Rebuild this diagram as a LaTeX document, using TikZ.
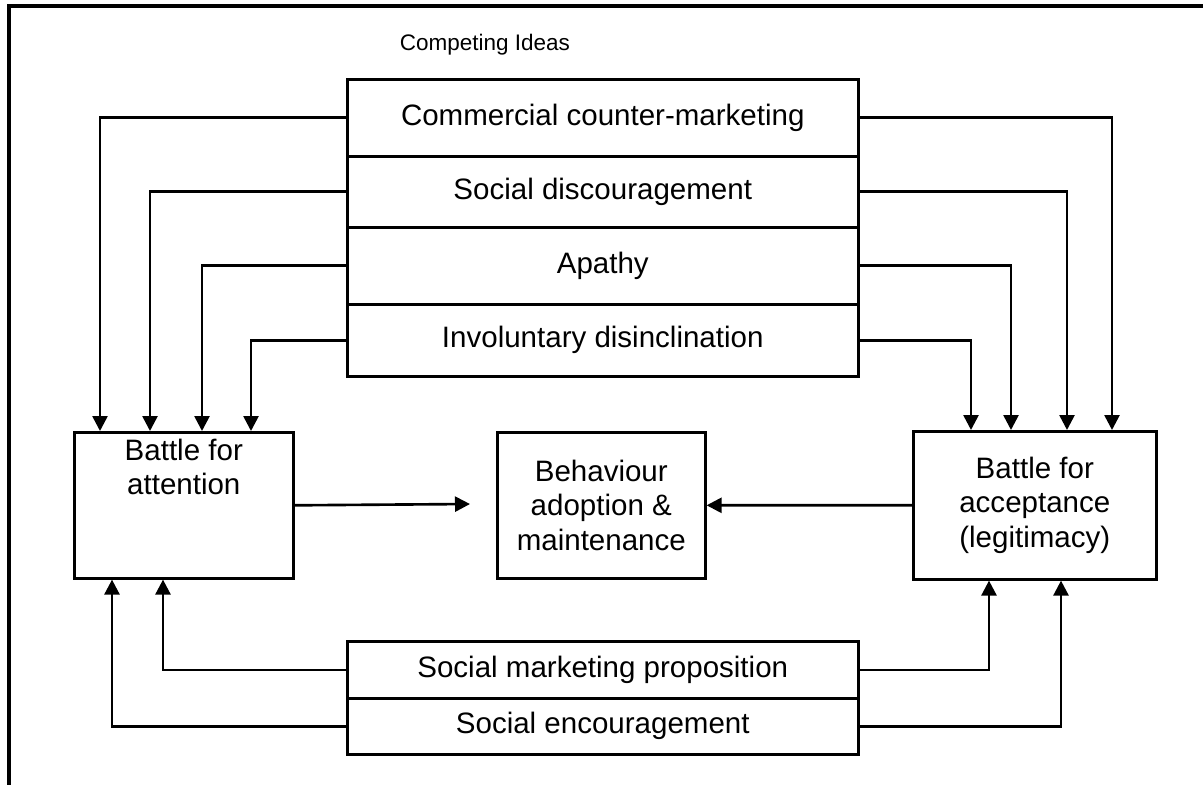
\documentclass[tikz,border=0pt]{standalone}
\usepackage{fontspec}
\setmainfont{Liberation Sans}
\usetikzlibrary{arrows.meta,calc}
\begin{document}
\begin{tikzpicture}[x=0.02cm,y=-0.02cm,line width=1.5pt,
  every node/.style={font=\fontsize{16.8}{19.5}\selectfont,align=center},
  box/.style={draw=black,rectangle,inner sep=0pt,anchor=north west},
  row/.style={box,minimum width=10.22cm},
  arr/.style={-{Triangle[length=0.3cm,width=0.3cm]}}]
\useasboundingbox (0,0) rectangle (1203,785);
% frame
\draw [line width=2pt] (1203,6) -- (9,6) -- (9,785);
\node [font=\fontsize{12.8}{15}\selectfont] (title) at (485,45) {Competing Ideas};
% competing ideas stack
\node [row,minimum height=1.54cm] (cm) at (346,78) {Commercial counter-marketing};
\node [row,minimum height=1.42cm] (sd) at (346,155) {Social discouragement};
\node [row,minimum height=1.54cm] (ap) at (346,226) {Apathy};
\node [row,minimum height=1.44cm] (inv) at (346,303) {Involuntary disinclination};
% the three battles
\node [box,minimum width=4.38cm,minimum height=2.92cm] (att) at (73,431) {};
\node [anchor=north] (attlbl) at ($(att.north)+(0,1)$) {Battle for\\attention};
\node [box,minimum width=4.16cm,minimum height=2.92cm] (beh) at (496,431) {Behaviour\\adoption \&\\maintenance};
\node [box,minimum width=4.86cm,minimum height=2.96cm] (acc) at (912,430) {Battle for\\acceptance\\(legitimacy)};
% proposition stack
\node [row,minimum height=1.14cm] (smp) at (346,640) {Social marketing proposition};
\node [row,minimum height=1.12cm] (se) at (346,697) {Social encouragement};
% into attention
\draw [arr] (cm.west) -| ($(att.north west)+(27,0)$);
\draw [arr] (sd.west) -| ($(att.north west)+(77,0)$);
\draw [arr] (ap.west) -| ($(att.north west)+(129,0)$);
\draw [arr] (inv.west) -| ($(att.north west)+(178,0)$);
\draw [arr] (smp.west) -| ($(att.south west)+(90,0)$);
\draw [arr] (se.west) -| ($(att.south west)+(39,0)$);
% into acceptance
\draw [arr] (cm.east) -| ($(acc.north west)+(200,0)$);
\draw [arr] (sd.east) -| ($(acc.north west)+(155,0)$);
\draw [arr] (ap.east) -| ($(acc.north west)+(99,0)$);
\draw [arr] (inv.east) -| ($(acc.north west)+(59,0)$);
\draw [arr] (smp.east) -| ($(acc.south west)+(77,0)$);
\draw [arr] (se.east) -| ($(acc.south west)+(149,0)$);
% towards behaviour
\coordinate (gap) at (470,504);
\draw [arr] (att.east) -- (gap);
\draw [arr] (acc.west) -- (beh.east);
\end{tikzpicture}
\end{document}
